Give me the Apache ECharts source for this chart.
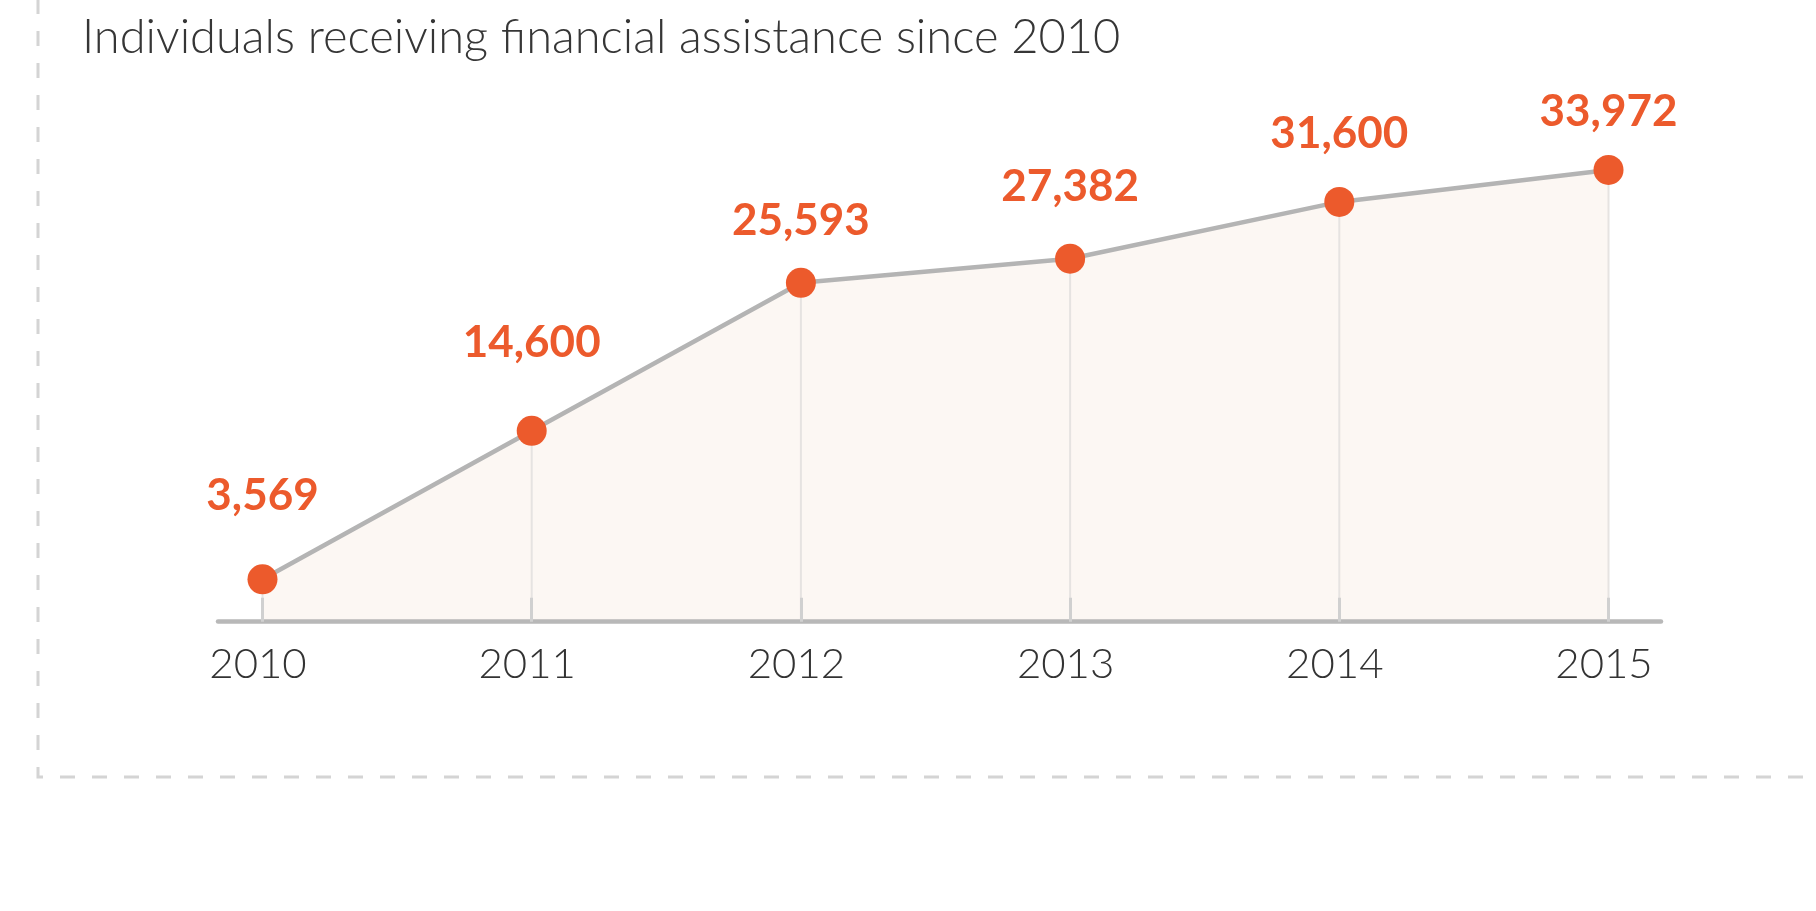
<!DOCTYPE html>
<html>
<head>
<meta charset="utf-8">
<script src="https://cdn.jsdelivr.net/npm/echarts@6/dist/echarts.min.js"></script>
<style>
html,body{margin:0;padding:0;background:#fff;}
#chart{width:1816px;height:911px;}
</style>
</head>
<body>
<div id="chart"></div>
<script>
var titleText = 'Individuals receiving financial assistance since 2010';
var years = [2010, 2011, 2012, 2013, 2014, 2015];
var individuals = [3569, 14600, 25593, 27382, 31600, 33972];
var labelDistance = [46, 51, 25, 35, 31, 21];

var pts = years.map(function (y, i) { return [y, individuals[i]]; });

var chart = echarts.init(document.getElementById('chart'));
chart.setOption({
  animation: false,
  backgroundColor: '#ffffff',
  title: {
    text: titleText,
    left: 77,
    top: 9,
    textStyle: { fontFamily: 'Lato', fontWeight: 300, fontSize: 47, color: '#363636' }
  },
  graphic: [{
    type: 'rect',
    shape: { x: 38, y: -60, width: 2000, height: 837 },
    style: { fill: 'none', stroke: '#d4d4d4', lineWidth: 3, lineDash: [15, 17] },
    silent: true,
    z: -10
  }],
  grid: { left: 218, right: 155, top: 169.6, bottom: 289.3 },
  xAxis: {
    type: 'value',
    min: 2009.8347,
    max: 2015.195,
    z: 2.5,
    splitLine: { show: false },
    axisLine: { show: true, lineStyle: { color: '#b8b8b8', width: 4.5 } },
    axisTick: { show: true, inside: true, length: 24, customValues: years,
      lineStyle: { color: '#d0d0d0', width: 3 } },
    axisLabel: { customValues: years, margin: 22, fontFamily: 'Lato', fontWeight: 300,
      fontSize: 42, color: '#333333', padding: [0, 9, 0, 0],
      formatter: function (v) { return String(v); } }
  },
  yAxis: {
    type: 'value',
    min: 420,
    max: 34000,
    show: false,
    splitLine: { show: false }
  },
  series: [
    {
      type: 'line',
      data: pts,
      symbol: 'none',
      lineStyle: { width: 0 },
      areaStyle: { color: '#fcf7f3', opacity: 1 },
      z: 1,
      silent: true
    },
    {
      type: 'bar',
      data: pts,
      barWidth: 2,
      itemStyle: { color: '#e6e3e1' },
      z: 2,
      silent: true
    },
    {
      type: 'line',
      data: pts.map(function (p, i) {
        return { value: p, label: { distance: labelDistance[i] } };
      }),
      symbol: 'circle',
      symbolSize: 30,
      itemStyle: { color: '#ec5a2c' },
      lineStyle: { color: '#b4b4b4', width: 4.5 },
      z: 3,
      label: {
        show: true,
        position: 'top',
        fontFamily: 'Lato',
        fontWeight: 700,
        fontSize: 44,
        lineHeight: 44,
        color: '#ec5a2c',
        formatter: function (p) { return p.value[1].toLocaleString('en-US'); }
      }
    }
  ]
});
</script>
</body>
</html>
